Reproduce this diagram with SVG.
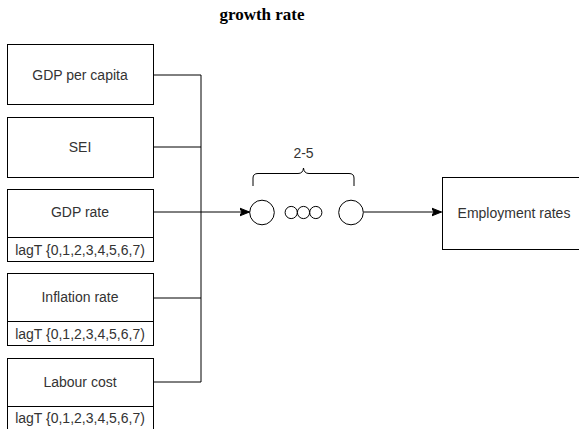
<svg xmlns="http://www.w3.org/2000/svg" width="579" height="429" viewBox="0 0 579 429">
<defs>
<style>
.box{fill:#fff;stroke:#000;stroke-width:1}
.t{font-family:"Liberation Sans",Arial,sans-serif;font-size:14px;fill:#333;text-anchor:middle;dominant-baseline:central}
.ln{fill:none;stroke:#000;stroke-width:1}
</style>
<marker id="arr" viewBox="0 0 10 10" refX="10" refY="5" markerWidth="10" markerHeight="10" markerUnits="userSpaceOnUse" orient="auto">
<path d="M0,1 L10,5 L0,9 L2.5,5 Z" fill="#000" stroke="#000"/>
</marker>
</defs>
<rect width="579" height="429" fill="#fff"/>
<text x="262" y="20" font-family="Liberation Serif,'Times New Roman',serif" font-size="17" font-weight="bold" text-anchor="middle" fill="#000">growth rate</text>

<g id="connectors">
<path class="ln" d="M153,75 H201 V382 H153"/>
<path class="ln" d="M153,147 H201"/>
<path class="ln" d="M153,298 H201"/>
<path class="ln" d="M153,212 H249.5" marker-end="url(#arr)"/>
<path class="ln" d="M363.5,212 H441.5" marker-end="url(#arr)"/>
</g>

<g id="gdp-per-capita">
<rect class="box" x="7.5" y="44.5" width="146" height="60"/>
<text class="t" x="80" y="75">GDP per capita</text>
</g>
<g id="sei">
<rect class="box" x="7.5" y="117.5" width="146" height="60"/>
<text class="t" x="80" y="147">SEI</text>
</g>
<g id="gdp-rate">
<rect class="box" x="7.5" y="189.5" width="146" height="72"/>
<line class="ln" x1="7.5" y1="237.5" x2="153.5" y2="237.5"/>
<text class="t" x="80" y="212">GDP rate</text>
<text class="t" x="80" y="250">lagT {0,1,2,3,4,5,6,7)</text>
</g>
<g id="inflation-rate">
<rect class="box" x="7.5" y="273.5" width="146" height="72"/>
<line class="ln" x1="7.5" y1="321.5" x2="153.5" y2="321.5"/>
<text class="t" x="80" y="297">Inflation rate</text>
<text class="t" x="80" y="334">lagT {0,1,2,3,4,5,6,7)</text>
</g>
<g id="labour-cost">
<rect class="box" x="7.5" y="358.5" width="146" height="72"/>
<line class="ln" x1="7.5" y1="406.5" x2="153.5" y2="406.5"/>
<text class="t" x="80" y="382">Labour cost</text>
<text class="t" x="80" y="418">lagT {0,1,2,3,4,5,6,7)</text>
</g>

<g id="sequence">
<circle class="ln" cx="262" cy="212.5" r="12.3"/>
<circle class="ln" cx="291.2" cy="212.5" r="6.1"/>
<circle class="ln" cx="303.5" cy="212.5" r="6.1"/>
<circle class="ln" cx="315.8" cy="212.5" r="6.1"/>
<circle class="ln" cx="351" cy="212.5" r="12.3"/>
</g>
<g id="brace">
<path class="ln" d="M253,186 V178 Q253,173.5 258,173.5 H298 Q303,173.5 303.5,168 Q304,173.5 309,173.5 H349 Q354,173.5 354,178 V186"/>
<text class="t" x="303.5" y="153">2-5</text>
</g>

<g id="employment-rates">
<rect class="box" x="442.5" y="177.5" width="145" height="72"/>
<text class="t" x="514" y="213">Employment rates</text>
</g>
</svg>
